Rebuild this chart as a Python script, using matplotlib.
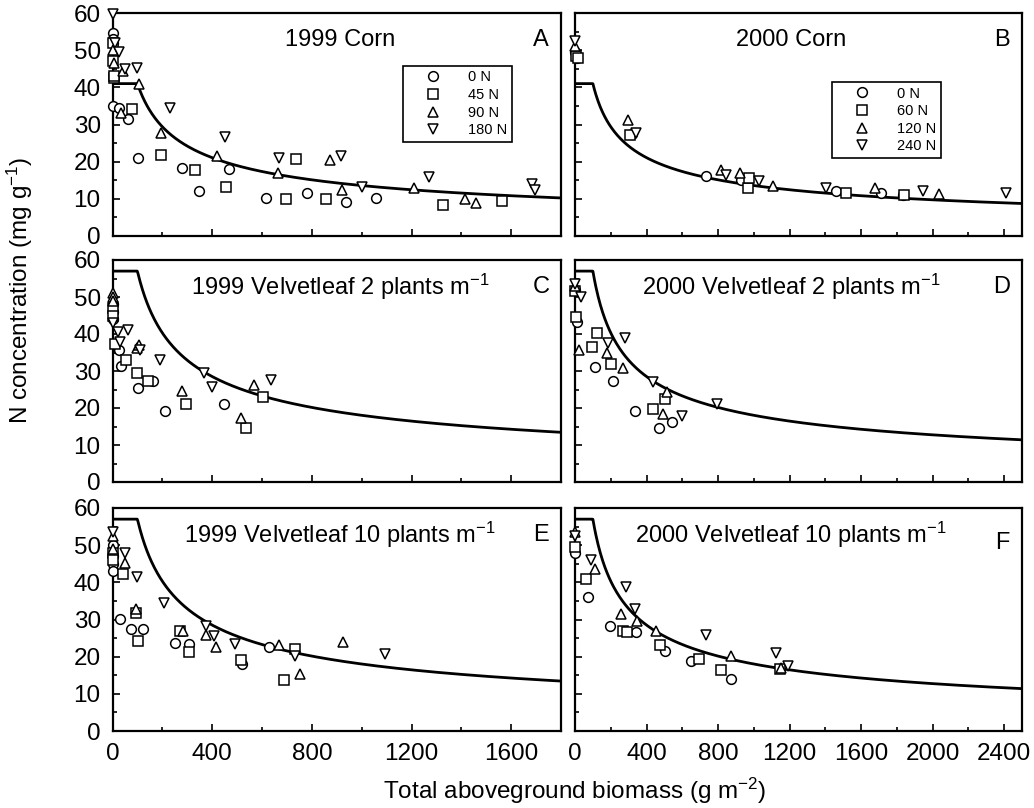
import numpy as np
import matplotlib
matplotlib.use("Agg")
import matplotlib.pyplot as plt
from matplotlib.lines import Line2D
from matplotlib.ticker import MultipleLocator

# values: (biomass g m-2, N mg g-1), one pair per N rate
# 1999 corn (0, 45, 90, 180 N)
A_N0 = ([0, 0, 0, 3, 28, 63, 103, 277, 346, 467, 617, 779, 939, 1058],
        [54.5, 53, 52, 35, 34.5, 31.4, 21, 18.3, 12, 18, 10.2, 11.7, 9.1, 10.2])
A_N1 = ([0, 0, 5, 8, 77, 194, 333, 457, 697, 737, 857, 1327, 1563],
        [52, 47, 42.5, 43, 34.1, 21.9, 17.8, 13.3, 10, 20.7, 10, 8.4, 9.5])
A_N2 = ([0, 5, 43, 35, 107, 194, 419, 663, 874, 921, 1210, 1413, 1457],
        [50, 46.5, 44.4, 33, 40.8, 27.7, 21.4, 16.9, 20.4, 12.4, 12.9, 10, 9])
A_N3 = ([0, 10, 26, 50, 98, 230, 453, 670, 919, 1003, 1270, 1683, 1697],
        [59.7, 52, 49.5, 44.9, 45.3, 34.5, 26.7, 21, 21.6, 13.2, 16, 14.1, 12.3])
# 2000 corn (0, 60, 120, 240 N)
B_N0 = ([0, 10, 320, 735, 931, 1462, 1713, 1834],
        [49.5, 48, 27.5, 16.2, 15.1, 12.0, 11.7, 11.1])
B_N1 = ([5, 15, 307, 965, 974, 1514, 1840],
        [48.5, 48, 27.3, 12.9, 15.6, 11.7, 11.1])
B_N2 = ([0, 298, 819, 922, 1108, 1676, 2035],
        [51, 31.2, 17.7, 17, 13.5, 12.9, 11.4])
B_N3 = ([0, 341, 847, 1028, 1406, 1946, 2408],
        [52.5, 27.7, 16.5, 14.7, 12.9, 12.0, 11.5])
# 1999 velvetleaf 2 plants m-1
C_N0 = ([0, 0, 0, 26, 33, 103, 163, 210, 447],
        [48, 46, 44, 35.7, 31.4, 25.5, 27.3, 19.3, 21])
C_N1 = ([0, 0, 10, 53, 97, 143, 294, 534, 606],
        [47, 45, 37.2, 33, 29.4, 27.3, 21.1, 14.5, 23.1])
C_N2 = ([0, 0, 0, 97, 106, 277, 517, 566],
        [51, 50, 49, 36.3, 37, 24.7, 17.2, 26.2])
C_N3 = ([0, 23, 30, 63, 110, 190, 366, 401, 637],
        [43, 40.6, 37.9, 41.1, 35.7, 33, 29.4, 25.8, 27.6])
# 2000 velvetleaf 2 plants m-1
D_N0 = ([0, 10, 112, 214, 335, 469, 544],
        [52, 43.3, 31.2, 27.3, 19.3, 14.7, 16.3])
D_N1 = ([0, 5, 93, 121, 199, 434, 503],
        [51.5, 44.7, 36.6, 40.2, 31.9, 19.6, 22.4])
D_N2 = ([0, 22, 177, 270, 493, 512],
        [53, 35.7, 34.8, 30.7, 18.3, 24.4])
D_N3 = ([0, 32, 186, 279, 438, 596, 795],
        [53.5, 50.1, 37.5, 38.8, 27.1, 17.9, 21])
# 1999 velvetleaf 10 plants m-1
E_N0 = ([0, 0, 0, 0, 30, 73, 121, 250, 307, 521, 627],
        [50, 47, 45, 43, 30.2, 27.5, 27.5, 23.7, 23.5, 18.1, 22.6])
E_N1 = ([0, 0, 43, 93, 103, 270, 307, 517, 690, 733],
        [48, 46, 42.2, 31.8, 24.1, 26.8, 21.3, 19.2, 13.6, 22.1])
E_N2 = ([0, 0, 50, 93, 283, 377, 417, 670, 753, 926],
        [52.6, 49, 45.3, 32.7, 26.8, 25.7, 22.6, 23.2, 15.4, 23.9])
E_N3 = ([0, 50, 97, 207, 374, 406, 490, 733, 1093],
        [53.5, 48, 41.5, 34.5, 28.2, 25.5, 23.5, 20.1, 20.8])
# 2000 velvetleaf 10 plants m-1
F_N0 = ([0, 71, 196, 341, 503, 646, 871],
        [48, 36.1, 28.2, 26.6, 21.6, 18.7, 14])
F_N1 = ([0, 61, 270, 289, 475, 695, 817, 1145],
        [49.5, 41, 26.8, 26.6, 23.2, 19.4, 16.5, 16.7])
F_N2 = ([0, 112, 257, 348, 451, 875, 1154],
        [53.5, 43.5, 31.6, 29.5, 26.8, 20.3, 16.9])
F_N3 = ([0, 88, 285, 335, 735, 1126, 1192],
        [52.5, 46, 38.8, 32.9, 25.8, 21, 17.4])

# critical N dilution curve N = a (W/100)^-b, plateau a below 100 g m-2
CORN_A, CORN_B = 41.0, 0.48
VL_A, VL_B = 57.0, 0.50

TITLES = ["1999 Corn", "2000 Corn",
          "1999 Velvetleaf 2 plants m$^{-1}$", "2000 Velvetleaf 2 plants m$^{-1}$",
          "1999 Velvetleaf 10 plants m$^{-1}$", "2000 Velvetleaf 10 plants m$^{-1}$"]
LETTERS = ["A", "B", "C", "D", "E", "F"]
LEG_1999 = ["0 N", "45 N", "90 N", "180 N"]
LEG_2000 = ["0 N", "60 N", "120 N", "240 N"]

# --- draw ---------------------------------------------------------------------
plt.rcParams.update({"font.family": "Liberation Sans", "font.size": 17,
                     "mathtext.default": "regular", "axes.linewidth": 1.6})
fig = plt.figure(figsize=(10.34, 8.08), dpi=100)
W, H = 1034, 808
COLS = [(112.5, 561), (575, 1022)]
ROWS = [(13, 236), (260, 482), (508, 731)]
MK = [("o", 7), ("s", 6.5), ("^", 7.5), ("v", 7.5)]

panels = [(A_N0, A_N1, A_N2, A_N3), (B_N0, B_N1, B_N2, B_N3),
          (C_N0, C_N1, C_N2, C_N3), (D_N0, D_N1, D_N2, D_N3),
          (E_N0, E_N1, E_N2, E_N3), (F_N0, F_N1, F_N2, F_N3)]

for i, series in enumerate(panels):
    r, c = divmod(i, 2)
    (l, rr), (t, b) = COLS[c], ROWS[r]
    ax = fig.add_axes([l / W, 1 - b / H, (rr - l) / W, (b - t) / H])
    xmax = 1800 if c == 0 else 2500
    a, bb = (CORN_A, CORN_B) if r == 0 else (VL_A, VL_B)
    w = np.linspace(0, xmax, 600)
    ax.plot(w, np.where(w < 100, a, a * (np.maximum(w, 100) / 100) ** -bb),
            color="black", lw=2.0, zorder=2)
    for (m, s), (xs, ys) in zip(MK, series):
        ax.plot(xs, ys, ls="none", marker=m, ms=s, mfc="white", mec="black",
                mew=1.1, zorder=3, clip_on=False)
    ax.set_xlim(0, xmax)
    ax.set_ylim(0, 60)
    ax.xaxis.set_major_locator(MultipleLocator(400))
    ax.xaxis.set_minor_locator(MultipleLocator(200))
    ax.yaxis.set_major_locator(MultipleLocator(10))
    ax.yaxis.set_minor_locator(MultipleLocator(5))
    ax.tick_params(which="both", direction="in", width=1.2, pad=8.5,
                   labelsize=17.5, labelbottom=(r == 2), labelleft=(c == 0))
    ax.tick_params(which="major", length=5)
    ax.tick_params(which="minor", length=3)
    tx = 0.507 if c == 0 else 0.483
    ax.text(tx, 0.879, TITLES[i], transform=ax.transAxes, ha="center",
            va="center", fontsize=17)
    ly = 0.843 if LETTERS[i] == "F" else 0.879
    ax.text(0.955, ly, LETTERS[i], transform=ax.transAxes, ha="center",
            va="center", fontsize=17)
    if r == 0:
        labels = LEG_1999 if c == 0 else LEG_2000
        handles = [Line2D([], [], ls="none", marker=m, ms=s, mfc="white",
                          mec="black", mew=1.1, label=lab)
                   for (m, s), lab in zip(MK, labels)]
        anchor = (0.648, 0.762) if c == 0 else (0.575, 0.69)
        leg = ax.legend(handles=handles, loc="upper left", bbox_to_anchor=anchor,
                        borderaxespad=0, fancybox=False, edgecolor="black",
                        fontsize=10.5, handlelength=3.5, handletextpad=0.65,
                        labelspacing=0.25, borderpad=0.3, framealpha=1)
        leg.get_frame().set_linewidth(1.2)

fig.text(575 / W, 1 - 791 / H, "Total aboveground biomass (g m$^{-2}$)",
         ha="center", va="center", fontsize=17.5)
fig.text(20 / W, 1 - 290 / H, "N concentration (mg g$^{-1}$)", rotation=90,
         ha="center", va="center", fontsize=17.5)

fig.savefig("out.png", dpi=100)
